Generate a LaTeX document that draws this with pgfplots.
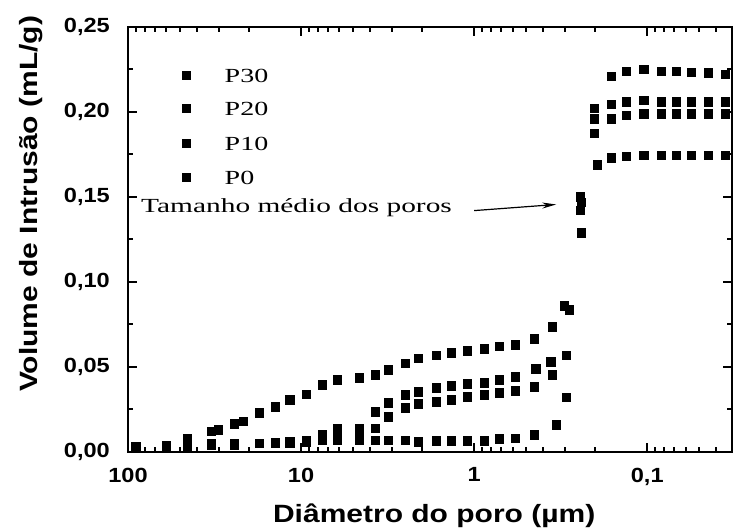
\documentclass[border=0pt]{standalone}
\usepackage{fontspec}
\setmainfont{Liberation Serif}
\setsansfont{Liberation Sans}
\usepackage{graphicx}
\usepackage{pgfplots}
\usepackage{pgfplotstable}
\pgfplotsset{compat=1.18}
\usetikzlibrary{arrows.meta}

% broad lettering
\newcommand\tk[1]{\scalebox{1.15}[1]{#1}}
\newcommand\lab[1]{\scalebox{1.2}[1]{#1}}
\newcommand\ser[1]{\scalebox{1.4}[1]{#1}}

% mercury intrusion curves: pore diameter (um) vs cumulative volume (mL/g)
\pgfplotstableread{
d v
89.9 0.003
60.3 0.004
45.6 0.0077
33.1 0.012
30.2 0.013
24.4 0.0165
21.6 0.018
17.5 0.023
14.1 0.0265
11.6 0.0306
9.36 0.034
7.56 0.0395
6.19 0.0425
4.62 0.0437
3.73 0.0454
3.14 0.0484
2.51 0.052
2.11 0.055
1.66 0.057
1.36 0.0584
1.10 0.0596
0.875 0.0607
0.716 0.062
0.579 0.063
0.450 0.0666
0.354 0.0737
0.302 0.086
0.244 0.150
0.202 0.202
0.161 0.221
0.132 0.224
0.105 0.225
0.083 0.224
0.068 0.224
0.0557 0.2235
0.0444 0.223
0.0354 0.222
}\ptrinta

\pgfplotstableread{
d v
89.9 0.002
60.3 0.003
45.6 0.004
33.1 0.005
24.4 0.005
17.5 0.005
14.1 0.0055
11.6 0.006
9.36 0.007
7.56 0.010
6.19 0.0136
4.62 0.014
3.73 0.0236
3.14 0.029
2.51 0.0336
2.11 0.0354
1.66 0.0377
1.36 0.039
1.10 0.040
0.875 0.0407
0.716 0.0425
0.579 0.0442
0.440 0.049
0.360 0.053
0.282 0.0837
0.241 0.147
0.202 0.196
0.161 0.2046
0.132 0.206
0.105 0.207
0.083 0.206
0.068 0.206
0.0557 0.206
0.0444 0.206
0.0354 0.206
}\pvinte

\pgfplotstableread{
d v
89.9 0.002
60.3 0.003
45.6 0.003
33.1 0.004
24.4 0.004
17.5 0.005
14.1 0.005
11.6 0.005
9.36 0.006
7.56 0.008
6.19 0.010
4.62 0.0125
3.73 0.014
3.14 0.0206
2.51 0.026
2.11 0.0283
1.66 0.0295
1.36 0.0307
1.10 0.0324
0.875 0.0336
0.716 0.0348
0.579 0.036
0.450 0.0383
0.354 0.0454
0.294 0.057
0.244 0.142
0.202 0.1875
0.161 0.196
0.132 0.198
0.105 0.199
0.083 0.199
0.068 0.199
0.0557 0.199
0.0444 0.199
0.0354 0.199
}\pdez

\pgfplotstableread{
d v
89.9 0.002
60.3 0.003
45.6 0.004
33.1 0.0045
24.4 0.005
17.5 0.005
14.1 0.005
11.6 0.0055
9.36 0.006
7.56 0.007
6.19 0.007
4.62 0.007
3.73 0.007
3.14 0.007
2.51 0.007
2.11 0.006
1.66 0.0065
1.36 0.0065
1.10 0.0065
0.875 0.0065
0.716 0.0077
0.579 0.008
0.450 0.010
0.336 0.016
0.294 0.032
0.241 0.129
0.195 0.169
0.161 0.173
0.132 0.174
0.105 0.1745
0.083 0.1745
0.068 0.1745
0.0557 0.1745
0.0444 0.1745
0.0354 0.1745
}\pzero

\pgfplotsset{
  sq/.style={only marks, mark=square*, mark size=4.2pt,
    mark options={fill=black, draw=black, line width=0.6pt}},
}
\tikzset{tic/.style={black, line width=2pt}}

\begin{document}
\begin{tikzpicture}
\begin{axis}[
  scale only axis, width=604pt, height=425pt,
  clip=false,
  xmode=log, x dir=reverse,
  xmin=0.0324, xmax=100,
  ymin=0, ymax=0.25,
  axis line style={line width=2pt},
  tick style={draw=black, line width=2pt},
  major tick length=9pt, minor tick length=5pt,
  xtick={100,10,1,0.1},
  xticklabels={\tk{100},\tk{10},\tk{1},\tk{0,1}},
  minor xtick={90,80,70,60,50,40,30,20,9,8,7,6,5,4,3,2,0.9,0.8,0.7,0.6,0.5,0.4,0.3,0.2,0.09,0.08,0.07,0.06,0.05,0.04},
  ytick={0,0.05,0.1,0.15,0.2,0.25},
  yticklabels={\tk{0,00},\tk{0,05},\tk{0,10},\tk{0,15},\tk{0,20},\tk{0,25}},
  minor ytick={0.025,0.075,0.125,0.175,0.225},
  tick label style={font=\sffamily\bfseries\fontsize{20.5}{24}\selectfont},
  yticklabel style={inner sep=0pt, xshift=-18pt},
  xticklabel style={inner sep=0pt, yshift=-15.5pt},
  xlabel={\lab{Diâmetro do poro (µm)}},
  ylabel={\lab{Volume de Intrusão (mL/g)}},
  label style={font=\sffamily\bfseries\fontsize{25}{30}\selectfont},
  xlabel style={at={(axis description cs:0.507,-0.167)}, anchor=base},
  ylabel style={at={(axis description cs:-0.149,0.584)}, anchor=base},
]
\addplot[sq] table[x=d, y=v] {\ptrinta};
\addplot[sq] table[x=d, y=v] {\pvinte};
\addplot[sq] table[x=d, y=v] {\pdez};
\addplot[sq] table[x=d, y=v] {\pzero};

% sample key, one square per series
\addplot[sq] coordinates {(46.2,0.2215)};
\addplot[sq] coordinates {(46.2,0.2020)};
\addplot[sq] coordinates {(46.2,0.1815)};
\addplot[sq] coordinates {(46.2,0.1615)};
\node[anchor=base west, inner sep=0pt, font=\rmfamily\fontsize{20}{24}\selectfont]
  at (axis cs:27.7,0.2175) {\ser{P30}};
\node[anchor=base west, inner sep=0pt, font=\rmfamily\fontsize{20}{24}\selectfont]
  at (axis cs:27.7,0.1980) {\ser{P20}};
\node[anchor=base west, inner sep=0pt, font=\rmfamily\fontsize{20}{24}\selectfont]
  at (axis cs:27.7,0.1775) {\ser{P10}};
\node[anchor=base west, inner sep=0pt, font=\rmfamily\fontsize{20}{24}\selectfont]
  at (axis cs:27.7,0.1575) {\ser{P0}};

\node[anchor=base west, inner sep=0pt, font=\rmfamily\fontsize{20}{24}\selectfont]
  at (axis cs:84.1,0.1409) {\scalebox{1.47}[1]{Tamanho médio dos poros}};
\draw[line width=1.2pt, -{Stealth[length=14pt, width=6pt]}]
  (axis cs:1.0,0.142) -- (axis cs:0.336,0.1456);
\end{axis}
\pgfresetboundingbox
\path[use as bounding box] ([xshift=-128pt,yshift=-76pt]current axis.south west)
  rectangle ([xshift=1pt,yshift=27pt]current axis.north east);
\end{tikzpicture}
\end{document}
